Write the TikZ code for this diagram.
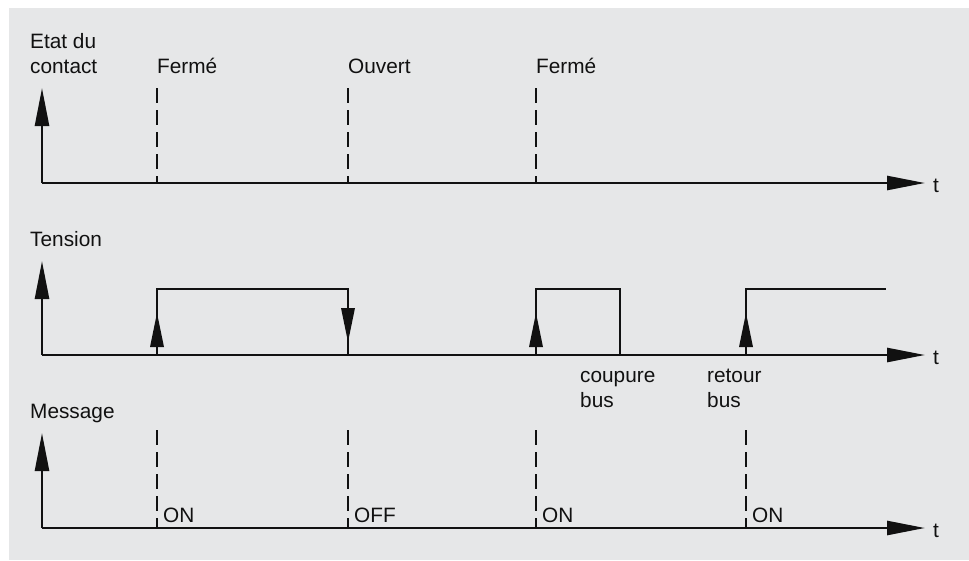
\documentclass[tikz,border=0pt]{standalone}
\usepackage{fontspec}
\setmainfont{Liberation Sans}
\usetikzlibrary{arrows.meta}
\definecolor{bg}{HTML}{E6E7E8}
\definecolor{ink}{HTML}{111111}
\begin{document}
\begin{tikzpicture}[x=1pt,y=-1pt,
  axis/.style={draw=ink,line width=2.6pt},
  axisarrow/.style={axis,-{Triangle[length=38pt,width=14pt]}},
  dashline/.style={draw=ink,line width=2.4pt,dash pattern=on 15pt off 7pt},
  lbl/.style={anchor=base west,inner sep=0pt,text=ink,font=\fontsize{20.8}{24}\selectfont},
  midtri/.style={fill=ink,draw=none}]
\useasboundingbox (0,0) rectangle (969,560);
\fill[bg] (9,8) rectangle (969,560);

% ---------- Etat du contact ----------
\node[lbl] (l1a) at (30,48) {Etat du};
\node[lbl] (l1b) at (30,73) {contact};
\coordinate (o1) at (42,183);
\coordinate (y1) at (42,88);
\coordinate (x1) at (925,183);
\draw[axisarrow] (o1) -- (y1);
\draw[axisarrow] (o1) -- (x1);
\node[lbl] (t1) at (933,192) {t};
\foreach \xx/\txt/\nm in {157/Fermé/a,348/Ouvert/b,536/Fermé/c}{
  \node[lbl] (f\nm) at (\xx,73) {\txt};
  \coordinate (ft\nm) at (\xx,88);
  \coordinate (fb\nm) at (\xx,183);
  \draw[dashline] (ft\nm) -- (fb\nm);
}

% ---------- Tension ----------
\node[lbl] (l2) at (30,246) {Tension};
\coordinate (o2) at (42,355);
\coordinate (y2) at (42,261);
\coordinate (x2) at (925,355);
\draw[axisarrow] (o2) -- (y2);
\draw[axisarrow] (o2) -- (x2);
\node[lbl] (t2) at (933,364) {t};
\coordinate (p1a) at (157,355); \coordinate (p1b) at (157,289);
\coordinate (p1c) at (348,289); \coordinate (p1d) at (348,355);
\draw[axis,line join=miter] (p1a) -- (p1b) -- (p1c) -- (p1d);
\coordinate (p2a) at (536,355); \coordinate (p2b) at (536,289);
\coordinate (p2c) at (620,289); \coordinate (p2d) at (620,355);
\draw[axis,line join=miter] (p2a) -- (p2b) -- (p2c) -- (p2d);
\coordinate (p3a) at (746,355); \coordinate (p3b) at (746,289);
\coordinate (p3c) at (886,289);
\draw[axis,line join=miter] (p3a) -- (p3b) -- (p3c);
% mid-line arrowheads
\foreach \xx in {157,536,746}{
  \fill[midtri] (\xx,313) -- (\xx-7,347) -- (\xx+7,347) -- cycle;
}
\fill[midtri] (348,342) -- (341,308) -- (355,308) -- cycle;
\node[lbl] (cb1) at (580,382) {coupure};
\node[lbl] (cb2) at (580,407) {bus};
\node[lbl] (rb1) at (707,382) {retour};
\node[lbl] (rb2) at (707,407) {bus};

% ---------- Message ----------
\node[lbl] (l3) at (30,418) {Message};
\coordinate (o3) at (42,528);
\coordinate (y3) at (42,433);
\coordinate (x3) at (925,528);
\draw[axisarrow] (o3) -- (y3);
\draw[axisarrow] (o3) -- (x3);
\node[lbl] (t3) at (933,537) {t};
\foreach \xx/\txt/\nm in {157/ON/a,348/OFF/b,536/ON/c,746/ON/d}{
  \coordinate (mt\nm) at (\xx,430);
  \coordinate (mb\nm) at (\xx,528);
  \draw[dashline] (mt\nm) -- (mb\nm);
  \node[lbl] (m\nm) at (\xx+6,522) {\txt};
}
\end{tikzpicture}
\end{document}
